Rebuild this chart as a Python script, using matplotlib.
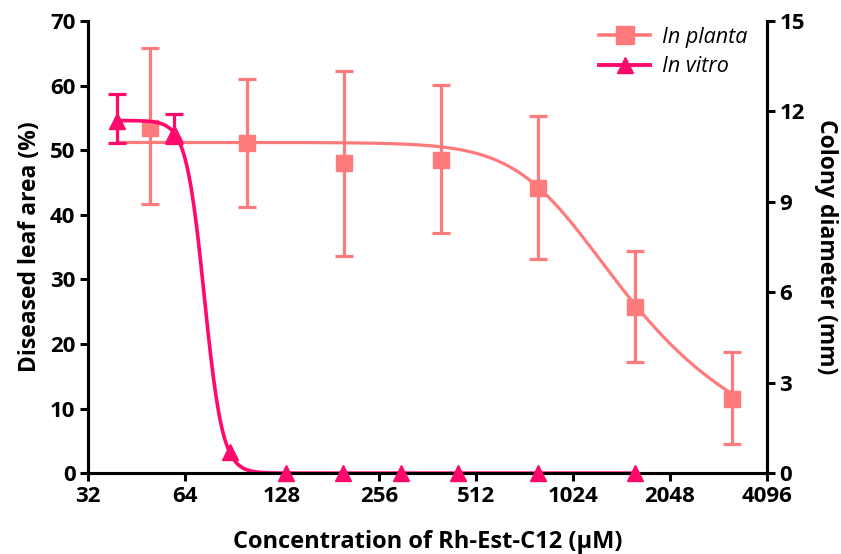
import numpy as np
import matplotlib
matplotlib.use("Agg")
import matplotlib.pyplot as plt
from matplotlib.ticker import FixedLocator, NullLocator

plt.rcParams["font.family"] = ["Open Sans", "DejaVu Sans"]

# ── Data ──────────────────────────────────────────────────────────────────────
planta_conc = [50, 100, 200, 400, 800, 1600, 3200]
planta_area = [53.4, 51.1, 48.0, 48.5, 44.1, 25.7, 11.5]
planta_hi   = [65.8, 61.0, 62.3, 60.1, 55.3, 34.4, 18.8]
planta_lo   = [41.7, 41.2, 33.6, 37.2, 33.1, 17.2, 4.5]

vitro_conc  = [39.5, 59, 88, 132, 198, 300, 450, 800, 1600]
vitro_diam  = [11.7, 11.3, 0.7, 0, 0, 0, 0, 0, 0]
vitro_hi    = [12.57, 11.93, 0.7, 0, 0, 0, 0, 0, 0]
vitro_lo    = [10.94, 10.94, 0.7, 0, 0, 0, 0, 0, 0]

# dose-response fit parameters (estimated from the drawn curves)
planta_top, planta_ec, planta_hill, planta_asym = 51.2, 905, 3.77, 0.3
vitro_top, vitro_ec, vitro_hill = 11.7, 73.5, 15.3

x_ticks = [32, 64, 128, 256, 512, 1024, 2048, 4096]

C_PLANTA = "#FF7B7B"
C_VITRO  = "#FF0A6C"


def richards(x, top, ec, hill, asym):
    return top / (1 + (x / ec) ** hill) ** asym


def hill_fn(x, top, ec, hill):
    return top / (1 + (x / ec) ** hill)


fig = plt.figure(figsize=(8.41, 5.54), dpi=100)
ax = fig.add_axes([0.1046, 0.146, 0.8074, 0.816])
ax2 = ax.twinx()

# ── In planta (left axis) ─────────────────────────────────────────────────────
xs = np.logspace(np.log10(vitro_conc[0]), np.log10(planta_conc[-1]), 300)
ax.plot(xs, richards(xs, planta_top, planta_ec, planta_hill, planta_asym),
        color=C_PLANTA, lw=2.3, zorder=2)
p_area = np.array(planta_area)
yerr = [p_area - np.array(planta_lo), np.array(planta_hi) - p_area]
ax.errorbar(planta_conc, planta_area, yerr=yerr, fmt="s", color=C_PLANTA,
            ms=12, elinewidth=2.3, capsize=6.5, capthick=2.3, zorder=3)

# ── In vitro (right axis) ─────────────────────────────────────────────────────
xs2 = np.logspace(np.log10(vitro_conc[0]), np.log10(vitro_conc[-1]), 400)
ax2.plot(xs2, hill_fn(xs2, vitro_top, vitro_ec, vitro_hill),
         color=C_VITRO, lw=2.6, zorder=2, clip_on=False)
v = np.array(vitro_diam)
lo = v - np.array(vitro_lo)
hi = np.array(vitro_hi) - v
has_err = (lo + hi) > 0
ax2.errorbar(np.array(vitro_conc)[has_err], v[has_err],
             yerr=[lo[has_err], hi[has_err]], fmt="none", ecolor=C_VITRO,
             elinewidth=2.3, capsize=6.5, capthick=2.3, zorder=3)
ax2.plot(vitro_conc, vitro_diam, "^", color=C_VITRO, ms=12, zorder=4,
         clip_on=False)

# legend proxies
h1, = ax2.plot([], [], "s-", color=C_PLANTA, ms=13, lw=2.6)
h2, = ax2.plot([], [], "^-", color=C_VITRO, ms=12, lw=2.8)
leg = ax2.legend([h1, h2], ["In planta", "In vitro"], loc="upper right",
                 bbox_to_anchor=(1.0, 1.03), frameon=False,
                 prop={"style": "italic", "size": 15.5}, handlelength=2.4,
                 handletextpad=0.55, labelspacing=0.4)

# ── Axes styling ──────────────────────────────────────────────────────────────
ax.set_xscale("log")
ax.set_xlim(32, 4096)
ax.set_ylim(0, 70)
ax2.set_ylim(0, 15)
ax.xaxis.set_major_locator(FixedLocator(x_ticks))
ax.xaxis.set_minor_locator(NullLocator())
ax.set_xticklabels([str(t) for t in x_ticks])
ax.set_yticks(range(0, 71, 10))
ax2.set_yticks(range(0, 16, 3))

for a in (ax, ax2):
    a.spines["top"].set_visible(False)
    for s in ("left", "right", "bottom"):
        a.spines[s].set_linewidth(2.2)
    a.tick_params(width=2.2, length=6, labelsize=16, pad=3)
    for lbl in a.get_xticklabels() + a.get_yticklabels():
        lbl.set_fontweight("bold")

ax.set_xlabel("Concentration of Rh-Est-C12 (\u03bcM)", fontsize=17,
              fontweight="bold", labelpad=17)
ax.set_ylabel("Diseased leaf area (%)", fontsize=16.5, fontweight="bold",
              labelpad=6)
ax2.set_ylabel("Colony diameter (mm)", fontsize=16.5, fontweight="bold",
               rotation=270, labelpad=24)

fig.savefig("out.png", dpi=100)
